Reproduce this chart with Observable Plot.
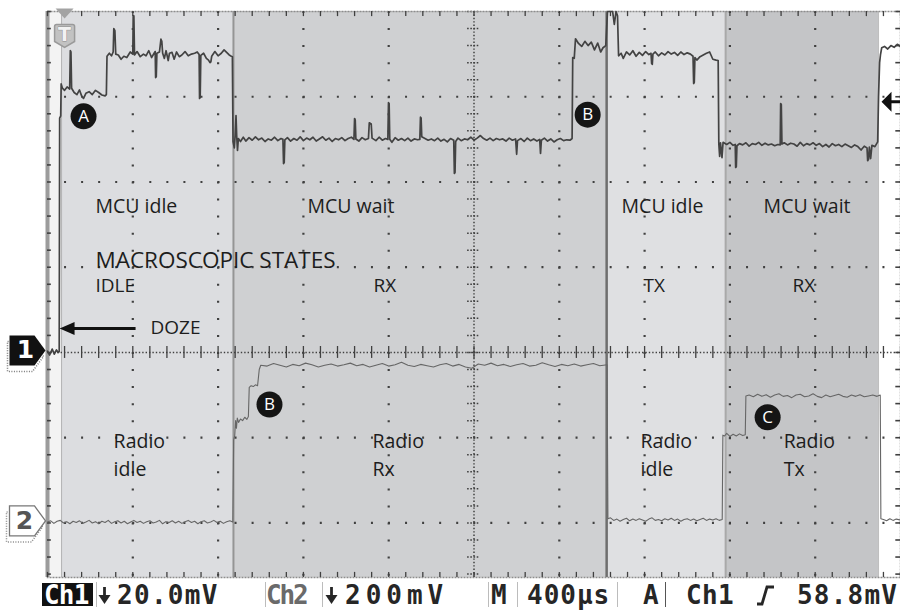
<!DOCTYPE html>
<html><head><meta charset="utf-8">
<script src="https://cdn.jsdelivr.net/npm/d3@7"></script>
<script src="https://cdn.jsdelivr.net/npm/@observablehq/plot@0.6"></script>
<style>
html,body{margin:0;padding:0;background:#fff;}
#wrap{position:relative;width:900px;height:612px;overflow:hidden;background:#fff;}
#status{position:absolute;left:0;top:580px;width:900px;height:32px;font-family:"DejaVu Sans Mono",monospace;font-size:26px;font-weight:bold;}
#status span{position:absolute;top:-1px;line-height:32px;white-space:pre;}
#status .div{position:absolute;top:2px;width:1.2px;height:25px;background:#bcbcbc;}
#status .blk{position:absolute;left:42px;top:3px;width:51px;height:23px;background:#111;}
</style></head>
<body><div id="wrap"><div id="chart"></div><div id="status"></div></div>
<script>
// ---- scope settings ----
const timePerDiv = 400;      // µs / div
const ch1MvPerDiv = 20;      // mV / div
const ch2MvPerDiv = 200;     // mV / div
const ch2GroundDiv = -2;     // ch2 ground marker position (div)
const triggerLevelMv = 58.8; // mV on ch1

// ---- state regions (µs) ----
const mcuStates = ["MCU idle", "MCU wait", "MCU idle", "MCU wait"];
const stateStart = [66, 872, 2622, 3180];
const stateEnd = [872, 2622, 3180, 3897];
const macroStates = ["IDLE", "RX", "TX", "RX"];
const radioLine1 = ["Radio", "Radio", "Radio", "Radio"];
const radioLine2 = ["idle", "Rx", "idle", "Tx"];

// label anchor times (µs) and levels (div)
const mcuLabelTime = [225, 1219, 2692, 3358];
const macroLabelTime = [225, 1529, 2795, 3494];
const radioLabelTime = [310, 1524, 2781, 3452];
const mcuLabelLevel = 1.713, macroTitleLevel = 1.08, macroLabelLevel = 0.775;
const radioLevel1 = -1.053, radioLevel2 = -1.38;
const macroTitle = "MACROSCOPIC STATES";
const dozeLabel = "DOZE", dozeTime = 483, dozeLevel = 0.293;
const dozeArrowFrom = 413, dozeArrowTo = 52, dozeArrowLevel = 0.281;
const markerLetters = ["A", "B", "B", "C"];
const markerTime = [169, 2533, 1041, 3377];
const markerLevel = [2.77, 2.79, -0.61, -0.76];
const triggerTime = 52;

// ---- Ch1 samples [µs, mV] ----
const ch1Samples = [
[0,0.3],[10,-0.6],[22,0.8],[32,-0.4],[42,0.6],[50,0],[55,0.2],[57,55],[62,55.5],[64,63],[70,62],[80,61.5],[92,62.3],[104,61.8],[107,70.8],[110,70.5],[113,62],[125,61],[138,60.5],[150,61.6],[160,60.2],[169,59.6],[180,60.8],[195,61.2],[210,60.5],[225,61.5],[240,61],[255,60.4],[270,60.2],[276,60.5],
[279,69.5],[290,70.2],[300,69.6],[308,70.5],[311,76],[316,75.5],[320,70],[332,69.8],[345,68.8],[358,69.5],[372,69.2],[388,70.5],[400,70],[402,79],[405,79],[408,69.8],[420,70.6],[435,69.4],[450,70],[462,69.6],[475,70.8],[488,69.2],[500,70.2],[505,70.6],[507,64.5],[510,64.7],[513,70.2],[525,70.5],[532,73.5],[536,73],[540,70.2],[548,69],[556,70.8],[566,68.5],[572,70.2],[584,70.4],[594,68.8],[605,70.5],[618,69.4],[630,69.8],[645,70.6],[660,69.6],[675,70],[690,70.2],[702,70.5],[711,69.9],[713,59.6],[716,59.8],[719,69.7],[732,70.2],[745,69],[755,68.6],[762,68],[766,68.2],[770,69.5],[785,70.6],[800,69.6],[815,70.2],[828,71],[840,70.4],[852,69.8],[862,69.5],[867,69.4],
[870,49.5],[876,48],[880,51],[884,55.6],[887,51],[891,47.4],[895,50.2],[905,49.5],[918,50.5],[930,49.6],[945,50.4],[960,49.8],[975,50.6],[990,49.9],[1005,50.3],[1020,49.5],[1035,50.1],[1050,49.8],[1065,50.5],[1080,49.7],[1095,50.2],[1104,50],[1107,44.3],[1110,44.6],[1113,49.9],[1125,50.4],[1140,49.6],[1155,50.2],[1170,49.8],[1185,50.6],[1200,49.7],[1215,50.3],[1230,49.9],[1245,50.5],[1260,49.6],[1275,50.1],[1290,50.6],[1305,49.8],[1320,50.3],[1335,49.5],[1350,50.2],[1365,49.9],[1380,50.4],[1395,49.7],[1410,50.2],[1425,50.5],[1437,50],[1440,54.9],[1443,54.6],[1446,50.1],[1460,49.6],[1475,50.4],[1490,49.9],[1505,50.2],[1509,53.9],[1518,53.6],[1522,50.3],[1540,49.7],[1555,50.5],[1570,49.8],[1585,50.2],[1596,50],[1599,58.6],[1602,58.4],[1605,50],[1615,49.3],[1630,50.4],[1645,49.8],[1660,50.2],[1675,49.7],[1690,50.3],[1705,49.6],[1720,50.1],[1735,49.9],[1746,50],[1749,55.2],[1752,55],[1755,50.6],[1770,50.2],[1785,49.8],[1800,50.1],[1815,49.7],[1830,50.3],[1845,49.6],[1860,50],[1875,49.4],[1890,50.2],[1905,49.8],[1908,42],[1911,42.2],[1914,49.5],[1925,50.3],[1940,49.7],[1955,50.1],[1970,49.9],[1985,50.5],[2000,49.8],[2015,50.3],[2030,50.9],[2045,50.2],[2060,49.8],[2075,50.3],[2090,49.7],[2105,50.2],[2120,49.9],[2135,50.1],[2150,49.6],[2165,50.3],[2180,49.8],[2195,50.1],[2200,46.5],[2204,49.7],[2220,50.2],[2235,49.5],[2250,50.3],[2265,49.7],[2280,50.1],[2295,49.6],[2308,50],[2312,46.7],[2316,49.8],[2330,50.3],[2345,49.6],[2360,50.1],[2375,49.4],[2390,49.9],[2405,50.2],[2420,49.7],[2435,49.9],[2450,49.8],[2460,50.2],
[2463,69.2],[2470,69],[2476,73.6],[2490,72.5],[2505,71.8],[2520,73],[2535,72],[2550,72.8],[2565,71],[2580,72.6],[2594,70.5],[2605,71.5],[2618,72],[2626,80],[2650,80],[2658,77],[2666,80],[2673,79],[2678,69.6],[2690,70.2],[2700,69],[2715,70.5],[2730,69.8],[2745,70.8],[2760,69.5],[2775,70.4],[2790,69.7],[2805,70.6],[2820,69.9],[2830,70.2],[2833,67.8],[2836,67.6],[2839,70],[2850,70.5],[2865,69.6],[2880,70.3],[2895,69.8],[2910,70.6],[2925,70],[2940,70.4],[2955,69.7],[2970,70.5],[2985,69.9],[3000,70.3],[3015,70],[3027,69.5],[3030,63.1],[3033,63.4],[3036,69.2],[3045,68.6],[3060,69.4],[3075,69.8],[3090,70.2],[3105,70.5],[3120,68.8],[3135,68.6],[3145,68.5],
[3148,49],[3152,46],[3156,49.2],[3163,45.7],[3168,49.3],[3185,48.8],[3200,49.3],[3215,48.6],[3225,48.8],[3227,43.4],[3230,43.6],[3233,48.5],[3245,49],[3260,48.7],[3275,49.2],[3290,48.4],[3305,49],[3320,48.8],[3335,49.3],[3350,48.6],[3365,49.1],[3380,48.7],[3395,48.9],[3410,48.5],[3425,48.8],[3436,48.7],[3438,58.4],[3441,58.2],[3444,48.9],[3455,49.2],[3470,48.7],[3485,49.1],[3500,48.9],[3515,48.4],[3530,49.3],[3545,48.5],[3560,49],[3575,48.7],[3590,49.2],[3605,48.6],[3620,49],[3635,48.3],[3650,48.8],[3665,48.2],[3680,49],[3695,48.5],[3710,48.8],[3725,48.3],[3740,48.9],[3755,48.5],[3770,48.1],[3785,48.7],[3800,48.3],[3815,47.5],[3830,48.4],[3843,48],[3846,45],[3850,45.3],[3854,48.2],[3860,45.5],[3866,48.6],[3880,48.3],[3893,49.4],
[3897,60],[3902,68],[3906,69.8],[3912,71.5],[3925,71.8],[3940,71.2],[3955,72],[3970,71.6],[3985,72.3],[4000,71.8]
];

// ---- Ch2 samples [µs, mV] ----
const ch2Samples = [
[0,2],[15,5],[30,-1],[45,4],[60,6],[75,0],[90,3],[105,-2],[120,4],[135,1],[150,5],[165,-1],[180,2],[195,6],[210,0],[225,3],[240,-2],[255,4],[270,1],[285,6],[300,-1],[315,3],[330,5],[345,0],[360,4],[375,-2],[390,2],[405,6],[420,1],[435,4],[450,-1],[465,3],[480,5],[495,0],[510,2],[525,6],[540,-2],[555,3],[570,1],[585,5],[600,0],[615,4],[630,-1],[645,3],[660,6],[675,1],[690,4],[705,-2],[720,3],[735,5],[750,0],[765,2],[780,6],[795,1],[810,4],[825,-1],[840,3],[855,5],[869,2],
[873,195],[878,205],[882,240],[886,222],[890,246],[896,236],[905,244],[915,240],[925,248],[935,243],[942,250],[946,318],[955,322],[965,320],[975,324],[985,322],[993,360],[1000,370],[1030,368],[1060,374],[1090,370],[1120,366],[1150,372],[1180,369],[1210,375],[1240,371],[1270,366],[1300,370],[1330,373],[1360,368],[1390,371],[1420,375],[1450,369],[1480,372],[1510,366],[1540,370],[1570,374],[1600,368],[1630,371],[1660,377],[1690,370],[1720,367],[1750,372],[1780,369],[1810,366],[1840,371],[1870,374],[1900,368],[1930,372],[1960,366],[1990,363],[2020,373],[2050,370],[2080,375],[2110,369],[2140,372],[2170,367],[2200,371],[2230,374],[2260,368],[2290,370],[2320,376],[2350,371],[2380,367],[2410,372],[2440,369],[2470,373],[2500,368],[2530,371],[2560,374],[2590,369],[2624,371],
[2628,10],[2640,12],[2655,6],[2670,9],[2685,4],[2700,8],[2715,11],[2730,5],[2745,9],[2760,6],[2775,10],[2790,7],[2805,4],[2820,9],[2835,12],[2850,6],[2865,8],[2880,5],[2895,10],[2910,7],[2925,11],[2940,6],[2955,9],[2970,4],[2985,8],[3000,10],[3015,6],[3030,9],[3045,5],[3060,8],[3075,11],[3090,6],[3105,9],[3120,7],[3135,10],[3150,6],[3164,8],
[3167,206],[3175,204],[3185,210],[3200,203],[3215,208],[3230,204],[3245,209],[3260,205],[3272,207],[3275,298],[3290,300],[3310,296],[3330,302],[3350,297],[3370,301],[3390,295],[3410,300],[3430,303],[3450,297],[3470,299],[3490,294],[3510,300],[3530,302],[3550,296],[3570,298],[3590,303],[3610,297],[3630,294],[3650,300],[3670,296],[3690,299],[3710,302],[3730,297],[3750,295],[3770,300],[3790,297],[3810,301],[3830,296],[3850,298],[3870,300],[3890,297],[3905,300],
[3908,10],[3920,8],[3935,5],[3950,10],[3965,6],[3980,9],[4000,7]
];

// ---- status bar texts ----
const statusLabels = ["Ch1", "20.0mV", "Ch2", "200mV", "M", "400µs", "A", "Ch1", "58.8mV"];

// ---------------- styles ----------------
const regionFill = ["#dcdde0", "#cfd0d2", "#dfe0e2", "#c4c5c7"];
const edges = [[stateStart[0], "#b4b4b4", 1], [stateStart[1], "#959595", 2], [stateStart[2], "#6e6e6e", 2.5], [stateStart[3], "#a9a9a9", 2], [stateEnd[3], "#bdbdbd", 1]];
const gridC = "#404040";
const yTop = 4, yBot = -2.64;
const tMax = 10 * timePerDiv;
const majorX = d3.range(1, 10).filter(k => k !== 5).map(k => k * timePerDiv);
const majorY = [-2, -1, 1, 2, 3];
const minorX = d3.range(0, 51).map(i => i * timePerDiv / 5);
const minorY = d3.range(-13, 21).map(i => i * 0.2);
const idx = d3.range(4);

const chMarker = {draw(c){ c.moveTo(0,0); c.lineTo(-11,-15); c.lineTo(-36,-15); c.lineTo(-36,15); c.lineTo(-11,15); c.closePath(); }};
const leftTri = {draw(c){ c.moveTo(0,0); c.lineTo(15,-6.5); c.lineTo(15,6.5); c.closePath(); }};
const trigArrow = {draw(c){ c.moveTo(0,0); c.lineTo(10,-10); c.lineTo(10,-1.5); c.lineTo(19,-1.5); c.lineTo(19,1.5); c.lineTo(10,1.5); c.lineTo(10,10); c.closePath(); }};
const downTri = {draw(c){ c.moveTo(-9,0); c.lineTo(9,0); c.lineTo(0,10); c.closePath(); }};
const tBox = {draw(c){ c.moveTo(-8,-11); c.lineTo(8,-11); c.quadraticCurveTo(10,-11,10,-9); c.lineTo(10,6); c.lineTo(0,12); c.lineTo(-10,6); c.lineTo(-10,-9); c.quadraticCurveTo(-10,-11,-8,-11); c.closePath(); }};

const one = [{t: 0, v: 0}];
const two = [{t: 0, v: ch2GroundDiv}];
const trig = [{t: tMax, v: triggerLevelMv / ch1MvPerDiv}];
const tpos = [{t: triggerTime, v: yTop}];

const txt = {fill: "#1d1d1d", textAnchor: "start"};

const chart = Plot.plot({
  width: 900, height: 580,
  marginLeft: 47, marginRight: 0, marginTop: 11, marginBottom: 3,
  x: {domain: [0, tMax], axis: null},
  y: {domain: [yBot, yTop], axis: null},
  color: {type: "identity"},
  style: {fontFamily: "'Open Sans', sans-serif", background: "white", overflow: "visible"},
  marks: [
    Plot.frame({fill: "#f3f3f3", stroke: "none"}),
    Plot.rect(idx, {x1: i => stateStart[i], x2: i => stateEnd[i], y1: yBot, y2: yTop, fill: i => regionFill[i]}),
    Plot.rect([0], {x1: stateEnd[3], x2: tMax, y1: yBot, y2: yTop, fill: "#ffffff"}),
    ...edges.map(([t, c, w]) => Plot.ruleX([t], {stroke: c, strokeWidth: w})),
    // grid
    Plot.ruleX(majorX, {stroke: gridC, strokeWidth: 2.2, strokeDasharray: "2,15.05"}),
    Plot.ruleY(majorY, {stroke: gridC, strokeWidth: 2.2, strokeDasharray: "2,15.05"}),
    Plot.ruleX([tMax / 2], {stroke: gridC, strokeWidth: 1.5, strokeDasharray: "1.4,2"}),
    Plot.ruleY([0], {stroke: gridC, strokeWidth: 1.5, strokeDasharray: "1.4,2"}),
    Plot.ruleY(minorY, {x1: tMax / 2 - 30, x2: tMax / 2 + 30, stroke: gridC, strokeWidth: 1.5, strokeDasharray: "1.6,1.6"}),
    Plot.ruleX(minorX, {y1: -0.07, y2: 0.07, stroke: gridC, strokeWidth: 1.3}),
    // frame
    Plot.frame({stroke: "#8d8d8d", strokeWidth: 1.5, strokeDasharray: "2,1"}),
    Plot.ruleX([0], {stroke: "#9c9c9c", strokeWidth: 4}),
    Plot.ruleX(minorX, {y1: yTop, y2: yTop - 0.06, stroke: gridC, strokeWidth: 1.3}),
    Plot.ruleX(minorX, {y1: yBot, y2: yBot + 0.06, stroke: gridC, strokeWidth: 1.3}),
    Plot.ruleY(minorY, {x1: 0, x2: 18, stroke: gridC, strokeWidth: 1.6}),
    Plot.ruleY(minorY, {x1: tMax - 22, x2: tMax, stroke: gridC, strokeWidth: 1.6}),
    // traces
    Plot.line(ch2Samples, {x: d => d[0], y: d => d[1] / ch2MvPerDiv + ch2GroundDiv, stroke: "#666666", strokeWidth: 1.1}),
    Plot.line(ch1Samples, {x: d => d[0], y: d => d[1] / ch1MvPerDiv, stroke: "#434343", strokeWidth: 1.7}),
    // labels
    Plot.text(idx, {x: i => mcuLabelTime[i], y: mcuLabelLevel, text: i => mcuStates[i], fontSize: 19.5, ...txt}),
    Plot.text([macroTitle], {x: mcuLabelTime[0], y: macroTitleLevel, text: d => d, fontSize: 22.5, ...txt}),
    Plot.text(idx, {x: i => macroLabelTime[i], y: macroLabelLevel, text: i => macroStates[i], fontSize: 19, ...txt}),
    Plot.text(idx, {x: i => radioLabelTime[i], y: radioLevel1, text: i => radioLine1[i], fontSize: 19.5, ...txt}),
    Plot.text(idx, {x: i => radioLabelTime[i], y: radioLevel2, text: i => radioLine2[i], fontSize: 19.5, ...txt}),
    Plot.text([dozeLabel], {x: dozeTime, y: dozeLevel, text: d => d, fontSize: 19, ...txt}),
    Plot.link([0], {x1: dozeArrowFrom, x2: dozeArrowTo + 60, y1: dozeArrowLevel, y2: dozeArrowLevel, stroke: "#111", strokeWidth: 3}),
    Plot.dot([0], {x: dozeArrowTo, y: dozeArrowLevel, symbol: leftTri, fill: "#111", dx: 1}),
    Plot.dot(idx, {x: i => markerTime[i], y: i => markerLevel[i], r: 13, fill: "#151515"}),
    Plot.text(idx, {x: i => markerTime[i], y: i => markerLevel[i], text: i => markerLetters[i], fill: "#ffffff", fontSize: 17}),
    // scope markers
    Plot.dot(one, {x: "t", y: "v", symbol: chMarker, fill: "none", stroke: "#777", strokeDasharray: "1,1.5", dx: -4, dy: 4}),
    Plot.dot(one, {x: "t", y: "v", symbol: chMarker, fill: "#111", dx: -2, dy: -2}),
    Plot.text(one, {x: "t", y: "v", text: () => "1", fill: "#fff", fontSize: 25, fontWeight: "bold", fontFamily: "DejaVu Sans", dx: -22, dy: -2}),
    Plot.dot(two, {x: "t", y: "v", symbol: chMarker, fill: "none", stroke: "#888", strokeDasharray: "1,1.5", dx: -5, dy: 4}),
    Plot.dot(two, {x: "t", y: "v", symbol: chMarker, fill: "#fff", stroke: "#777", strokeWidth: 1.3, dx: -2, dy: -2}),
    Plot.text(two, {x: "t", y: "v", text: () => "2", fill: "#555", fontSize: 25, fontWeight: "bold", fontFamily: "DejaVu Sans", dx: -23, dy: -2}),
    Plot.dot(trig, {x: "t", y: "v", symbol: trigArrow, fill: "#111", dx: -19}),
    Plot.dot(tpos, {x: "t", y: "v", symbol: downTri, fill: "#a3a3a3", dx: 6, dy: -3}),
    Plot.dot(tpos, {x: "t", y: "v", symbol: tBox, fill: "#c2c2c2", stroke: "#9a9a9a", dx: 6, dy: 24}),
    Plot.text(tpos, {x: "t", y: "v", text: () => "T", fill: "#f2f2f2", stroke: "#8a8a8a", strokeWidth: 0.8, fontSize: 19, fontWeight: "bold", fontFamily: "DejaVu Sans", dx: 6, dy: 23})
  ]
});
document.getElementById("chart").appendChild(chart);

// ---- status bar ----
const statusLeft = [44, 117, 266, 345, 491, 527, 643, 686, 797];
const statusColor = ["#fff", "#262626", "#6a6a6a", "#262626", "#262626", "#262626", "#262626", "#262626", "#262626"];
const statusSpacing = [-0.8, 1.3, -2.2, 5, 0, 1, 0, 0.4, 1.2];
const dividers = [96, 265, 322, 488, 517, 617, 665];
const downArrows = [98, 325];
const bar = document.getElementById("status");
const blk = document.createElement("div"); blk.className = "blk"; bar.appendChild(blk);
dividers.forEach(x => { const d = document.createElement("div"); d.className = "div"; d.style.left = x + "px"; if (x === 665) d.style.background = "#555"; bar.appendChild(d); });
statusLabels.forEach((s, i) => {
  const sp = document.createElement("span");
  sp.textContent = s;
  sp.style.left = statusLeft[i] + "px";
  sp.style.color = statusColor[i];
  sp.style.letterSpacing = statusSpacing[i] + "px";
  bar.appendChild(sp);
});
function addSvg(left, w, inner) {
  const s = document.createElementNS("http://www.w3.org/2000/svg", "svg");
  s.setAttribute("width", w); s.setAttribute("height", 26);
  s.style.position = "absolute"; s.style.left = left + "px"; s.style.top = "3px";
  s.innerHTML = inner; bar.appendChild(s);
}
downArrows.forEach(x => addSvg(x, 14, '<path d="M6.5 4 V17" stroke="#262626" stroke-width="2.8"/><path d="M0.5 12 L12.5 12 L6.5 21 Z" fill="#262626"/>'));
addSvg(756, 20, '<path d="M1 21 H6 L11 4 H18" fill="none" stroke="#262626" stroke-width="2.8"/>');
</script></body></html>
